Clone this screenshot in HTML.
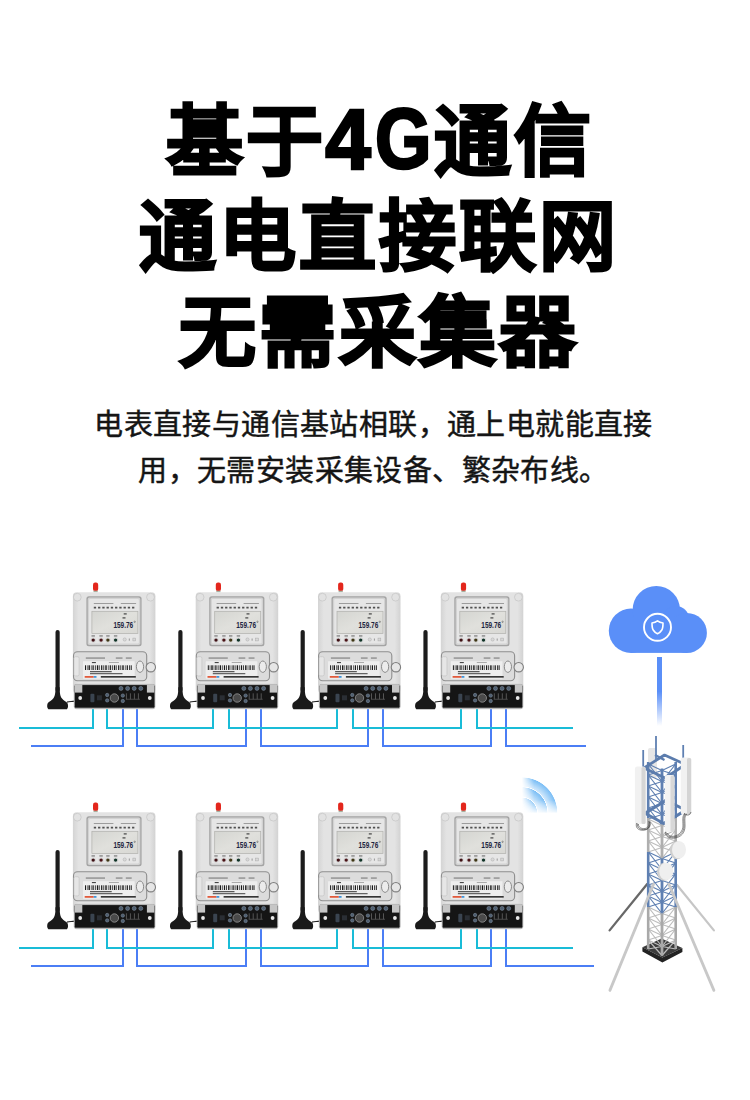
<!DOCTYPE html>
<html lang="zh-CN"><head><meta charset="utf-8">
<style>
html,body{margin:0;padding:0;background:#fff;}
body{width:750px;height:1100px;position:relative;overflow:hidden;font-family:"Liberation Sans",sans-serif;}
.h{position:absolute;left:0;width:750px;text-align:center;font-size:77px;letter-spacing:3px;font-weight:700;color:#000;line-height:80px;white-space:nowrap;-webkit-text-stroke:2.4px #000;}
.p{position:absolute;left:0;width:750px;text-align:center;font-size:29px;letter-spacing:0.4px;color:#151515;line-height:32px;white-space:nowrap;-webkit-text-stroke:0.45px #151515;}
.g4{display:inline-block;transform-origin:50% 84%;transform:translateX(0.6px) scale(1.063,1.117);}
.gG{display:inline-block;transform-origin:50% 84%;transform:translate(2.1px,-0.6px) scale(0.943,1.115);}
svg.ill{position:absolute;left:0;top:0;}
</style></head><body>
<div class="h" id="h1" style="top:101.5px;left:5px;">基于<span class="g4">4</span><span class="gG">G</span>通信</div>
<div class="h" id="h2" style="top:197px;left:4px;">通电直接联网</div>
<div class="h" id="h3" style="top:292.5px;left:4px;">无需采集器</div>
<div class="p" id="p1" style="top:409.2px;left:-1.5px;">电表直接与通信基站相联，通上电就能直接</div>
<div class="p" id="p2" style="top:455px;left:-1.5px;">用，无需安装采集设备、繁杂布线。</div>

<svg class="ill" width="750" height="1100" viewBox="0 0 750 1100">
<defs>
<linearGradient id="fade" x1="0" y1="0" x2="0" y2="1">
  <stop offset="0" stop-color="#5a8ff8"/><stop offset="0.5" stop-color="#5a8ff8"/><stop offset="1" stop-color="#5a8ff8" stop-opacity="0"/>
</linearGradient>
<radialGradient id="wgrad" gradientUnits="userSpaceOnUse" cx="521.9" cy="812.8" r="35.7">
  <stop offset="0" stop-color="#4aa6f2" stop-opacity="0"/>
  <stop offset="0.42" stop-color="#4aa6f2" stop-opacity="0.72"/>
  <stop offset="0.435" stop-color="#fff" stop-opacity="0"/>
  <stop offset="0.45" stop-color="#4aa6f2" stop-opacity="0.25"/>
  <stop offset="0.71" stop-color="#4aa6f2" stop-opacity="0.72"/>
  <stop offset="0.725" stop-color="#fff" stop-opacity="0"/>
  <stop offset="0.74" stop-color="#4aa6f2" stop-opacity="0.25"/>
  <stop offset="0.98" stop-color="#4aa6f2" stop-opacity="0.72"/>
  <stop offset="1" stop-color="#4aa6f2" stop-opacity="0"/>
</radialGradient>
<linearGradient id="wm1" gradientUnits="userSpaceOnUse" x1="521.9" y1="0" x2="534" y2="0">
  <stop offset="0" stop-color="#fff" stop-opacity="0"/><stop offset="1" stop-color="#fff" stop-opacity="1"/>
</linearGradient>
<linearGradient id="wm2" gradientUnits="userSpaceOnUse" x1="0" y1="812.8" x2="0" y2="800">
  <stop offset="0" stop-color="#fff" stop-opacity="0.1"/><stop offset="1" stop-color="#fff" stop-opacity="1"/>
</linearGradient>
<mask id="wmask" maskUnits="userSpaceOnUse" x="500" y="760" width="80" height="70">
  <rect x="500" y="760" width="80" height="70" fill="url(#wm1)"/>
</mask>
<mask id="wmask2" maskUnits="userSpaceOnUse" x="500" y="760" width="80" height="70">
  <rect x="500" y="760" width="80" height="70" fill="url(#wm2)"/>
</mask>
<linearGradient id="bodyg" x1="0" y1="0" x2="1" y2="0">
  <stop offset="0" stop-color="#d4d4d4"/><stop offset="0.07" stop-color="#e3e3e3"/><stop offset="0.93" stop-color="#e3e3e3"/><stop offset="1" stop-color="#d2d2d2"/>
</linearGradient>
<linearGradient id="scrg" x1="0" y1="0" x2="1" y2="1">
  <stop offset="0" stop-color="#d4d5d1"/><stop offset="0.5" stop-color="#e0e0dc"/><stop offset="1" stop-color="#d8d8d4"/>
</linearGradient>
<g id="meter">
  <!-- antenna -->
  <rect x="-17.4" y="37.7" width="4.2" height="62" rx="2.1" fill="#1c1c1c"/>
  <path d="M-17.4 95 C-17.4 101 -18 104 -19.5 106 C-21 108 -24 109.5 -25.2 111 C-26 112.5 -26 116 -24.5 116.9 L-6 116.9 C-4.6 116 -4.6 112.5 -5.4 111 C-6.6 109.5 -9.6 108 -11.1 106 C-12.6 104 -13.2 101 -13.2 95 Z" fill="#1a1a1a"/>
  <path d="M-6 109.8 C-3 109.6 -1 109 1.5 108.8" stroke="#222" stroke-width="1.1" fill="none"/>
  <!-- red knob -->
  <rect x="20.1" y="-9.8" width="5.2" height="8.6" rx="2.2" fill="#e3261c"/>
  <rect x="20.6" y="-1.6" width="4.2" height="1.6" fill="#a8b0a0"/>
  <!-- body -->
  <rect x="0" y="0" width="82.5" height="101" rx="4" fill="url(#bodyg)"/>
  <circle cx="4.4" cy="4.9" r="3.9" fill="#e2e2e2" stroke="#c4c4c4" stroke-width="0.7"/>
  <circle cx="77.6" cy="4.9" r="3.9" fill="#e2e2e2" stroke="#c4c4c4" stroke-width="0.7"/>
  <!-- panel -->
  <rect x="13.5" y="4" width="55.2" height="50" rx="2.5" fill="#a4a4a4"/>
  <rect x="14.8" y="5.3" width="52.6" height="47.4" rx="1.8" fill="#d2d2d2"/>
  <rect x="16.2" y="6.7" width="49.8" height="44.6" rx="1" fill="#e6e6e6"/>
  <rect x="19" y="19" width="46" height="22.1" fill="url(#scrg)" stroke="#b0b0ac" stroke-width="0.7"/>
  <!-- header text -->
  <rect x="20.9" y="10.7" width="19.6" height="0.8" fill="#8a8a8a"/>
  <rect x="47.9" y="10.7" width="15.3" height="0.8" fill="#8a8a8a"/>
  <line x1="20.9" y1="15.3" x2="63.4" y2="15.3" stroke="#505050" stroke-width="1.8" stroke-dasharray="2.3 1.95"/>
  <!-- digits -->
  <rect x="50.8" y="21" width="3" height="1.2" fill="#444"/>
  <rect x="49.6" y="25" width="3" height="1.2" fill="#444"/>
  <text x="40.5" y="35.6" font-family="'Liberation Sans', sans-serif" font-size="9.8" font-weight="700" fill="#1d2440" textLength="19.8" lengthAdjust="spacingAndGlyphs">159.76</text>
  <circle cx="61.8" cy="29.5" r="0.7" fill="none" stroke="#333" stroke-width="0.4"/>
  <!-- leds -->
  <g fill="#e2e2e2" stroke="#c4c4c4" stroke-width="0.4">
   <circle cx="20.3" cy="47.8" r="2.4"/><circle cx="28.2" cy="47.8" r="2.4"/><circle cx="35" cy="47.8" r="2.4"/><circle cx="42.7" cy="47.8" r="2.4"/>
  </g>
  <circle cx="20.3" cy="47.8" r="1.7" fill="#3e1014"/><circle cx="28.2" cy="47.8" r="1.7" fill="#4a1216"/>
  <circle cx="35" cy="47.8" r="1.7" fill="#3e3614"/><circle cx="42.7" cy="47.8" r="1.7" fill="#0f3326"/>
  <g fill="#555"><rect x="18.6" y="43.2" width="3.4" height="0.9"/><rect x="26.5" y="43.2" width="3.4" height="0.9"/><rect x="33.3" y="43.2" width="3.4" height="0.9"/><rect x="41" y="43.2" width="3.4" height="0.9"/></g>
  <circle cx="51.8" cy="47.2" r="1.6" fill="#d8d8d8" stroke="#aaa" stroke-width="0.5"/>
  <rect x="55.9" y="46.2" width="1" height="2.2" fill="#999"/>
  <rect x="60" y="45.8" width="2.8" height="2.8" fill="#d8d8d8" stroke="#aaa" stroke-width="0.5"/>
  <!-- cover -->
  <rect x="0.6" y="59.4" width="73.2" height="29.1" rx="4" fill="#dcdcdc" stroke="#8e8e8e" stroke-width="1.1"/>
  <rect x="1" y="64.4" width="5.2" height="19.2" rx="1.5" fill="#e6e6e6" stroke="#c0c0c0" stroke-width="0.6"/>
  <rect x="12.9" y="65.2" width="19.2" height="1.1" fill="#7a7a7a"/><rect x="42.9" y="65.2" width="6.7" height="1.1" fill="#7a7a7a"/><rect x="52.9" y="65.2" width="5.9" height="1.1" fill="#7a7a7a"/>
  <rect x="9.6" y="68.5" width="52.5" height="18.4" rx="1" fill="#eeeeee" stroke="#cfcfcf" stroke-width="0.4"/>
  <rect x="19" y="69.8" width="4" height="1" fill="#333"/><rect x="36" y="69.8" width="10" height="0.8" fill="#999"/>
  <g fill="#1a1a1a">
   <rect x="12.1" y="73" width="1" height="4.7"/><rect x="14" y="73" width="0.6" height="4.7"/><rect x="15.6" y="73" width="1.4" height="4.7"/><rect x="18" y="73" width="0.6" height="4.7"/><rect x="19.6" y="73" width="1.2" height="4.7"/><rect x="22" y="73" width="0.8" height="4.7"/><rect x="24" y="73" width="1.4" height="4.7"/><rect x="26.5" y="73" width="0.6" height="4.7"/><rect x="28.2" y="73" width="1.2" height="4.7"/><rect x="30.5" y="73" width="0.8" height="4.7"/><rect x="32.4" y="73" width="1.4" height="4.7"/><rect x="35" y="73" width="0.6" height="4.7"/><rect x="36.8" y="73" width="1.2" height="4.7"/><rect x="39" y="73" width="0.8" height="4.7"/><rect x="41" y="73" width="1.4" height="4.7"/><rect x="43.5" y="73" width="0.6" height="4.7"/><rect x="45.2" y="73" width="1.2" height="4.7"/><rect x="47.5" y="73" width="0.8" height="4.7"/><rect x="49.4" y="73" width="1.4" height="4.7"/><rect x="52" y="73" width="0.6" height="4.7"/><rect x="53.8" y="73" width="1.2" height="4.7"/><rect x="56.2" y="73" width="0.8" height="4.7"/><rect x="57.8" y="73" width="1" height="4.7"/>
  </g>
  <rect x="17.1" y="78.9" width="21.7" height="1" fill="#333"/><rect x="17.1" y="80.9" width="32.5" height="1" fill="#444"/>
  <rect x="11.8" y="83.8" width="9" height="1.6" fill="#e04a28"/><rect x="20.8" y="83.8" width="2.8" height="1.6" fill="#2a8ad8"/>
  <rect x="27.9" y="83.8" width="35" height="1.5" fill="#222"/>
  <ellipse cx="67.1" cy="74.4" rx="3.6" ry="5.7" fill="#ececec" stroke="#8a8a8a" stroke-width="1"/>
  <circle cx="77.9" cy="74.9" r="4.7" fill="#e6e6e6" stroke="#7e7e7e" stroke-width="1.1"/>
  <!-- terminal block -->
  <rect x="1.3" y="91.4" width="80.8" height="25.5" rx="2" fill="#d0d0d0"/>
  <rect x="1.3" y="92.3" width="80.8" height="23.6" rx="1.5" fill="#151515" stroke="#c4c4c4" stroke-width="0.9"/>
  <rect x="2" y="92.3" width="7.4" height="8" fill="#c6c6c6"/><rect x="74" y="92.3" width="7.4" height="8" fill="#c6c6c6"/>
  <circle cx="7.3" cy="105.7" r="1.9" fill="#e8e8e8"/><circle cx="76.9" cy="105.7" r="1.9" fill="#e8e8e8"/>
  <g fill="#4e5e70" stroke="#8896a6" stroke-width="0.5"><circle cx="48.1" cy="96.1" r="2"/><circle cx="54.7" cy="96.1" r="2"/><circle cx="61.3" cy="96.1" r="2"/><circle cx="67.9" cy="96.1" r="2"/>
   <circle cx="34.3" cy="102.7" r="1.7"/><circle cx="34.3" cy="108.1" r="1.7"/><circle cx="49.9" cy="103.3" r="1.7"/><circle cx="49.9" cy="108.7" r="1.7"/></g>
  <circle cx="41.5" cy="105.7" r="4.2" fill="#4a4a4a" stroke="#8a8a8a" stroke-width="0.9"/>
  <rect x="17.5" y="101.5" width="4" height="8.5" rx="1" fill="#3a4450"/>
  <rect x="24" y="103" width="5" height="5" fill="#2a2e34"/>
  <g fill="#555"><rect x="53" y="101" width="1" height="6"/><rect x="57" y="101" width="1" height="6"/><rect x="61" y="101" width="1" height="6"/><rect x="65" y="101" width="1" height="6"/><rect x="53" y="106.5" width="14" height="0.8"/></g>
</g>
</defs>

<!-- row 1 wires -->
<g fill="none" stroke-width="2" stroke-linejoin="miter">
 <path stroke="#4b7ef5" d="M31 746H123V709 M137 709V746H246V709 M261 709V746H368V709 M383 709V746H491V709 M506 709V746H586"/>
 <path stroke="#4b7ef5" d="M31 966H123V929 M137 929V966H246V929 M261 929V966H368V929 M383 929V966H491V929 M506 929V966H594"/>
 <path stroke="#19bcd7" d="M19 728H93V709 M107 709V728H213V709 M229 709V728H337V709 M353 709V728H461V709 M477 709V728H573"/>
 <path stroke="#19bcd7" d="M19 948H93V929 M107 929V948H213V929 M229 929V948H337V929 M353 929V948H461V929 M477 929V948H573"/>
</g>

<use href="#meter" x="72.9" y="592.3"/>
<use href="#meter" x="195.7" y="592.3"/>
<use href="#meter" x="318" y="592.3"/>
<use href="#meter" x="440.8" y="592.3"/>
<use href="#meter" x="72.9" y="812.3"/>
<use href="#meter" x="195.7" y="812.3"/>
<use href="#meter" x="318" y="812.3"/>
<use href="#meter" x="440.8" y="812.3"/>

<!-- cloud -->
<g fill="#5a8ff8">
<circle cx="631" cy="630.7" r="22.2"/>
<circle cx="656.3" cy="609.7" r="23.7"/>
<circle cx="676" cy="619" r="13"/>
<circle cx="686.9" cy="632.9" r="20"/>
<rect x="631" y="618" width="56" height="34.9"/>
</g>
<circle cx="657.5" cy="627.3" r="13.5" fill="none" stroke="#fff" stroke-width="1.9"/>
<path d="M657.5 620.8 C655.8 622.2 654 622.8 652 623 C652 626 652.2 628.5 653.2 630 C654.3 631.8 655.8 633 657.5 633.8 C659.2 633 660.7 631.8 661.8 630 C662.8 628.5 663 626 663 623 C661 622.8 659.2 622.2 657.5 620.8Z" fill="none" stroke="#fff" stroke-width="1.6" stroke-linejoin="round"/>
<rect x="657" y="657" width="5" height="69" fill="url(#fade)"/>

<!-- wifi -->
<g mask="url(#wmask)"><g mask="url(#wmask2)">
<path d="M521.9 812.8 V777.1 A35.7 35.7 0 0 1 557.6 812.8Z" fill="url(#wgrad)"/>
</g></g>

<!-- tower -->
<g stroke-linecap="round">
 <line x1="647.2" y1="884" x2="609.6" y2="930.4" stroke="#686868" stroke-width="2.3"/>
 <line x1="676.8" y1="884.8" x2="713.9" y2="930.4" stroke="#c6c6c6" stroke-width="2.2"/>
</g>
<path d="M642.4 947.2 L661.6 938.4 L682.4 948 L662.4 957.6Z" fill="#3c3c3c"/>
<path d="M642.4 947.2 L662.4 957.6 L682.4 948 V952 L662.4 962.4 L642.4 951.6Z" fill="#222"/>
<!-- back panel -->
<rect x="648" y="748" width="9" height="30" rx="2" fill="#e6e6e6"/>
<g id="lattice"><g stroke-width="1.2" fill="none"><path d="M648.2 764.0 L662.0 781.5 M648.2 775.0 L662.0 770.5 M648.2 764.0 L662.0 770.5" stroke="#5f80b2"/><path d="M662.0 770.5 L675.7 775.0 M662.0 781.5 L675.7 764.0 M662.0 770.5 L675.7 764.0" stroke="#5f80b2"/><path d="M648.2 775.0 L662.0 792.5 M648.2 786.0 L662.0 781.5 M648.2 775.0 L662.0 781.5" stroke="#5f80b2"/><path d="M662.0 781.5 L675.7 786.0 M662.0 792.5 L675.7 775.0 M662.0 781.5 L675.7 775.0" stroke="#5f80b2"/><path d="M648.2 786.0 L662.0 803.5 M648.2 797.0 L662.0 792.5 M648.2 786.0 L662.0 792.5" stroke="#5f80b2"/><path d="M662.0 792.5 L675.7 797.0 M662.0 803.5 L675.7 786.0 M662.0 792.5 L675.7 786.0" stroke="#5f80b2"/><path d="M648.2 797.0 L662.0 814.5 M648.2 808.0 L662.0 803.5 M648.2 797.0 L662.0 803.5" stroke="#5f80b2"/><path d="M662.0 803.5 L675.7 808.0 M662.0 814.5 L675.7 797.0 M662.0 803.5 L675.7 797.0" stroke="#5f80b2"/><path d="M648.2 808.0 L662.0 825.5 M648.2 819.0 L662.0 814.5 M648.2 808.0 L662.0 814.5" stroke="#5f80b2"/><path d="M662.0 814.5 L675.7 819.0 M662.0 825.5 L675.7 808.0 M662.0 814.5 L675.7 808.0" stroke="#5f80b2"/><path d="M648.2 819.0 L662.0 836.5 M648.2 830.0 L662.0 825.5 M648.2 819.0 L662.0 825.5" stroke="#bdbdbd"/><path d="M662.0 825.5 L675.7 830.0 M662.0 836.5 L675.7 819.0 M662.0 825.5 L675.7 819.0" stroke="#bdbdbd"/><path d="M648.2 830.0 L662.0 847.5 M648.2 841.0 L662.0 836.5 M648.2 830.0 L662.0 836.5" stroke="#bdbdbd"/><path d="M662.0 836.5 L675.7 841.0 M662.0 847.5 L675.7 830.0 M662.0 836.5 L675.7 830.0" stroke="#bdbdbd"/><path d="M648.2 841.0 L662.0 858.5 M648.2 852.0 L662.0 847.5 M648.2 841.0 L662.0 847.5" stroke="#bdbdbd"/><path d="M662.0 847.5 L675.7 852.0 M662.0 858.5 L675.7 841.0 M662.0 847.5 L675.7 841.0" stroke="#bdbdbd"/><path d="M648.2 852.0 L662.0 869.5 M648.2 863.0 L662.0 858.5 M648.2 852.0 L662.0 858.5" stroke="#5f80b2"/><path d="M662.0 858.5 L675.7 863.0 M662.0 869.5 L675.7 852.0 M662.0 858.5 L675.7 852.0" stroke="#5f80b2"/><path d="M648.2 863.0 L662.0 880.5 M648.2 874.0 L662.0 869.5 M648.2 863.0 L662.0 869.5" stroke="#5f80b2"/><path d="M662.0 869.5 L675.7 874.0 M662.0 880.5 L675.7 863.0 M662.0 869.5 L675.7 863.0" stroke="#5f80b2"/><path d="M648.2 874.0 L662.0 891.5 M648.2 885.0 L662.0 880.5 M648.2 874.0 L662.0 880.5" stroke="#5f80b2"/><path d="M662.0 880.5 L675.7 885.0 M662.0 891.5 L675.7 874.0 M662.0 880.5 L675.7 874.0" stroke="#5f80b2"/><path d="M648.2 885.0 L662.0 902.5 M648.2 896.0 L662.0 891.5 M648.2 885.0 L662.0 891.5" stroke="#5f80b2"/><path d="M662.0 891.5 L675.7 896.0 M662.0 902.5 L675.7 885.0 M662.0 891.5 L675.7 885.0" stroke="#5f80b2"/><path d="M648.2 896.0 L662.0 913.5 M648.2 907.0 L662.0 902.5 M648.2 896.0 L662.0 902.5" stroke="#5f80b2"/><path d="M662.0 902.5 L675.7 907.0 M662.0 913.5 L675.7 896.0 M662.0 902.5 L675.7 896.0" stroke="#5f80b2"/><path d="M648.2 907.0 L662.0 924.5 M648.2 918.0 L662.0 913.5 M648.2 907.0 L662.0 913.5" stroke="#bdbdbd"/><path d="M662.0 913.5 L675.7 918.0 M662.0 924.5 L675.7 907.0 M662.0 913.5 L675.7 907.0" stroke="#bdbdbd"/><path d="M648.2 918.0 L662.0 935.5 M648.2 929.0 L662.0 924.5 M648.2 918.0 L662.0 924.5" stroke="#bdbdbd"/><path d="M662.0 924.5 L675.7 929.0 M662.0 935.5 L675.7 918.0 M662.0 924.5 L675.7 918.0" stroke="#bdbdbd"/><path d="M648.2 929.0 L662.0 946.5 M648.2 940.0 L662.0 935.5 M648.2 929.0 L662.0 935.5" stroke="#bdbdbd"/><path d="M662.0 935.5 L675.7 940.0 M662.0 946.5 L675.7 929.0 M662.0 935.5 L675.7 929.0" stroke="#bdbdbd"/><path d="M648.2 940.0 L662.0 955.5 M648.2 949.0 L662.0 946.5 M648.2 940.0 L662.0 946.5" stroke="#bdbdbd"/><path d="M662.0 946.5 L675.7 949.0 M662.0 955.5 L675.7 940.0 M662.0 946.5 L675.7 940.0" stroke="#bdbdbd"/></g><g fill="none"><path d="M648.2 762 V818 M675.7 762 V818" stroke="#5f80b2" stroke-width="2.6"/><path d="M662.0 768.5 V824.5" stroke="#5f80b2" stroke-width="2.8"/><path d="M648.2 818 V852 M675.7 818 V852" stroke="#afafaf" stroke-width="2.6"/><path d="M662.0 824.5 V858.5" stroke="#afafaf" stroke-width="2.8"/><path d="M648.2 852 V907 M675.7 852 V907" stroke="#5f80b2" stroke-width="2.6"/><path d="M662.0 858.5 V913.5" stroke="#5f80b2" stroke-width="2.8"/><path d="M648.2 907 V949 M675.7 907 V949" stroke="#a9a9a9" stroke-width="2.6"/><path d="M662.0 913.5 V955.5" stroke="#a9a9a9" stroke-width="2.8"/></g></g>
<!-- frames -->
<path d="M644 768 L664.5 755 L685.5 764.5 L665 778Z" fill="none" stroke="#5b7cad" stroke-width="2.7" stroke-linejoin="round"/><path d="M655 755 L664.5 760" stroke="#5b7cad" stroke-width="2.2"/>
<path d="M645 813.3 L666 800.5 L685.8 810.1 L663.9 823.5Z" fill="none" stroke="#5b7cad" stroke-width="3" stroke-linejoin="round"/>
<g stroke="#5f80b2" stroke-width="1.8">
<line x1="656" y1="736" x2="656" y2="760"/>
<line x1="643.2" y1="750" x2="643.2" y2="768"/>
<line x1="683.2" y1="745" x2="683.2" y2="767"/>
</g>
<!-- panels -->
<g>
<rect x="634.9" y="766.4" width="10.7" height="57.6" rx="2.5" fill="#f1f1f1"/>
<rect x="641.5" y="767" width="4.1" height="57" rx="1.5" fill="#d6d6d6"/>
<rect x="680.8" y="757.6" width="10.4" height="56.8" rx="2.5" fill="#f1f1f1"/>
<rect x="687" y="758" width="4.2" height="56.4" rx="1.5" fill="#d4d4d4"/>
<rect x="664.8" y="775" width="9.6" height="57" rx="2.5" fill="#f3f3f3"/>
<rect x="670.5" y="775.5" width="3.9" height="56.5" rx="1.5" fill="#d8d8d8"/>
</g>
<!-- cables -->
<g fill="none" stroke="#2a2a2a" stroke-width="0.55">
<path d="M636.5 823 C635 829 640 831 645 830 C649 829 651 826 650 822"/>
<path d="M637.5 823.5 C636.5 828 641 830 645 829.5 C648.5 829 650.5 826 649.5 821.5"/>
<path d="M638.5 824 C638 827.5 642 829 645 828.5 C648 828 649.5 825.5 648.8 821"/>
<path d="M665.5 832 C665 837 670 839 675 838 C681 837 685 833 685 826 C685 820 684 816 687 814"/>
<path d="M666.5 832.5 C666.5 836 670 838 675 837 C680 836 684 832 684 826 C684 820 683 816 686 813.5"/>
<path d="M667.5 833 C668 835.5 671 837 675 836 C679 835 683 831 683 826 C683 820 682 816 685 813"/>
<path d="M684 814 C688 816 690 815 691 812"/>
</g>
<!-- dishes -->
<ellipse cx="677" cy="850.3" rx="7.2" ry="9" fill="#cfcfcf"/>
<ellipse cx="679" cy="849.8" rx="7" ry="8.8" fill="#efefef"/>
<ellipse cx="664.2" cy="871.8" rx="7.2" ry="9" fill="#cfcfcf"/>
<ellipse cx="666.2" cy="871.2" rx="7" ry="8.8" fill="#efefef"/>
<!-- front guy wires -->
<g stroke-linecap="round">
 <line x1="653.6" y1="884" x2="609.9" y2="990.4" stroke="#c8c8c8" stroke-width="2.8"/>
 <line x1="668.8" y1="884" x2="713.9" y2="990.4" stroke="#c8c8c8" stroke-width="2.8"/>
</g>
</svg>
</body></html>
